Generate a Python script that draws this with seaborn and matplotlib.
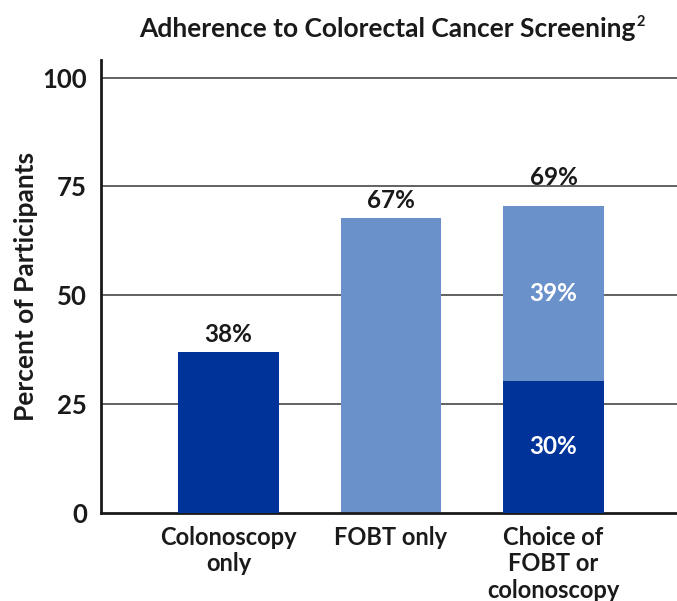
import pandas as pd
import matplotlib.pyplot as plt
import seaborn as sns

# data
categories = ['Colonoscopy\nonly', 'FOBT only', 'Choice of\nFOBT or\ncolonoscopy']
dark_vals = [37.0, 0.0, 30.4]      # dark blue segment
light_vals = [0.0, 67.8, 40.2]     # light blue segment on top
top_labels = ['38%', '67%', '69%']
inner_labels = ['', '', '30%']
upper_labels = ['', '', '39%']
y_ticks = [0, 25, 50, 75, 100]

dark_color = '#003399'
light_color = '#6a91ca'
label_pad = [4, 4, 12]  # the third label sits a bit higher in the original

sns.set_theme(style='white')
plt.rcParams['font.family'] = ['Lato', 'DejaVu Sans']
plt.rcParams['font.weight'] = 'bold'

df = pd.DataFrame({'Category': categories, 'Dark': dark_vals, 'Light': light_vals})
df['Total'] = df['Dark'] + df['Light']

fig = plt.figure(figsize=(6.77, 6.01), dpi=100)
ax = fig.add_axes([0.149, 0.1464, 0.851, 0.7536])

for yt in y_ticks[1:]:
    ax.axhline(yt, color='#555555', lw=1.3, zorder=0)

sns.barplot(data=df, x='Category', y='Total', color=light_color, saturation=1,
            width=0.62, linewidth=0, ax=ax, zorder=2)
sns.barplot(data=df, x='Category', y='Dark', color=dark_color, saturation=1,
            width=0.62, linewidth=0, ax=ax, zorder=3)

ax.set_ylim(0, 104)
ax.set_xlim(-0.785, 2.76)
ax.set_yticks(y_ticks)
ax.set_yticklabels([str(t) for t in y_ticks], fontsize=18.5, fontweight='bold', color='#1a1a1a')
ax.tick_params(axis='y', length=0, pad=10)
ax.tick_params(axis='x', length=0, pad=9)
for lbl in ax.get_xticklabels():
    lbl.set_fontsize(17)
    lbl.set_fontweight('bold')
    lbl.set_color('#1a1a1a')
    lbl.set_linespacing(1.2)
ax.set_xlabel('')
ax.set_ylabel('Percent of Participants', fontsize=19, fontweight='bold', color='#1a1a1a', labelpad=3)

for side in ['top', 'right']:
    ax.spines[side].set_visible(False)
for side in ['left', 'bottom']:
    ax.spines[side].set_color('#1a1a1a')
    ax.spines[side].set_linewidth(2)

# value labels
for i, row in df.iterrows():
    ax.annotate(top_labels[i], xy=(i, row['Total']), xytext=(0, label_pad[i]), textcoords='offset points',
                ha='center', va='bottom', fontsize=17.5, fontweight='bold', color='#1a1a1a')
    if inner_labels[i]:
        ax.text(i, row['Dark'] / 2, inner_labels[i], ha='center', va='center',
                fontsize=17.5, fontweight='bold', color='white', zorder=4)
    if upper_labels[i]:
        ax.text(i, row['Dark'] + row['Light'] / 2, upper_labels[i], ha='center', va='center',
                fontsize=17.5, fontweight='bold', color='white', zorder=4)

title = fig.text(0.572, 0.952, 'Adherence to Colorectal Cancer Screening', ha='center', va='center',
                 fontsize=19, fontweight='bold', color='#1a1a1a')
ax.annotate('2', xy=(1, 1), xycoords=title, xytext=(1, 1), textcoords='offset points',
            ha='left', va='top', fontsize=10.5, color='#1a1a1a')

plt.savefig('out.png', dpi=100)
